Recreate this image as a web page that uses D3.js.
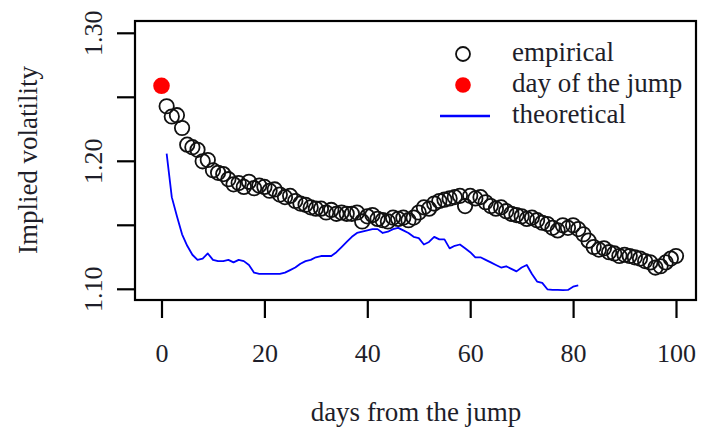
<!DOCTYPE html>
<html><head><meta charset="utf-8">
<script src="https://cdn.jsdelivr.net/npm/d3@7"></script>
<style>body{margin:0;background:#fff}svg{display:block}text{font-family:"Liberation Serif","DejaVu Serif",serif;fill:#1e1e2a}</style>
</head><body>
<script>
// Data
const jumpDay = [0];
const jumpValue = [1.259];
const empiricalValues = [1.243,1.235,1.236,1.226,1.213,1.211,1.209,1.200,1.201,1.193,
1.191,1.190,1.186,1.182,1.183,1.180,1.184,1.179,1.181,1.180,
1.177,1.178,1.174,1.172,1.173,1.169,1.167,1.166,1.164,1.163,
1.163,1.160,1.162,1.159,1.160,1.159,1.159,1.160,1.153,1.157,
1.158,1.155,1.154,1.153,1.156,1.155,1.156,1.154,1.156,1.160,
1.164,1.163,1.167,1.169,1.170,1.171,1.172,1.173,1.165,1.173,
1.171,1.172,1.168,1.165,1.163,1.164,1.161,1.159,1.158,1.157,
1.155,1.156,1.154,1.152,1.151,1.148,1.146,1.150,1.148,1.150,
1.147,1.143,1.138,1.133,1.131,1.132,1.129,1.128,1.126,1.127,
1.126,1.125,1.124,1.122,1.121,1.117,1.118,1.121,1.124,1.126];
const theoreticalValues = [1.206,1.172,1.157,1.143,1.134,1.127,1.123,1.124,1.128,1.123,
1.122,1.122,1.123,1.121,1.123,1.122,1.119,1.113,1.112,1.112,
1.112,1.112,1.112,1.113,1.115,1.117,1.120,1.122,1.123,1.125,
1.126,1.126,1.126,1.129,1.133,1.137,1.141,1.144,1.145,1.146,
1.147,1.147,1.144,1.145,1.147,1.148,1.146,1.144,1.141,1.140,
1.135,1.137,1.141,1.139,1.139,1.132,1.134,1.135,1.132,1.129,
1.125,1.125,1.123,1.121,1.119,1.117,1.118,1.116,1.114,1.117,
1.119,1.112,1.106,1.105,1.100,1.0995,1.0995,1.0993,1.0995,1.102,1.103];
const xTicks = [0,20,40,60,80,100];
const yTicks = [1.10,1.15,1.20,1.25,1.30];
const yLabels = [1.10,1.20,1.30];
const legendItems = ["empirical","day of the jump","theoretical"];

const W=701,H=431;
const svg=d3.select("body").append("svg").attr("width",W).attr("height",H);
const x=d3.scaleLinear().domain([0,100]).range([161.5,676]);
const y=d3.scaleLinear().domain([1.10,1.30]).range([289.3,33.3]);
const box={l:135,r:696,t:21,b:300};
const FS=26;

// box
svg.append("rect").attr("x",box.l).attr("y",box.t).attr("width",box.r-box.l).attr("height",box.b-box.t)
  .attr("fill","none").attr("stroke","#000").attr("stroke-width",2.2);

// x axis
const xa=svg.append("g").attr("transform",`translate(0,${box.b})`)
  .call(d3.axisBottom(x).tickValues(xTicks).tickSize(18).tickPadding(0).tickFormat(d3.format("d")));
xa.select(".domain").remove();
xa.selectAll("line").attr("stroke","#000").attr("stroke-width",2.2);
xa.selectAll("text").attr("y",62).attr("dy",0).style("font-size",FS+"px").attr("fill","#1e1e2a");

// y axis
const ya=svg.append("g").attr("transform",`translate(${box.l},0)`)
  .call(d3.axisLeft(y).tickValues(yTicks).tickSize(18).tickFormat(d=>yLabels.some(v=>Math.abs(v-d)<1e-9)?d3.format(".2f")(d):""));
ya.select(".domain").remove();
ya.selectAll("line").attr("stroke","#000").attr("stroke-width",2.2);
ya.selectAll("text").attr("x",0).attr("dy",0).attr("text-anchor","middle")
  .attr("transform",d=>`translate(-33,${y(d)}) rotate(-90)`).attr("y",0)
  .style("font-size",FS+"px").attr("fill","#1e1e2a");
ya.selectAll(".tick").attr("transform",null);
ya.selectAll(".tick line").attr("y1",d=>y(d)).attr("y2",d=>y(d));

// titles
svg.append("text").attr("x",416).attr("y",421).attr("text-anchor","middle").style("font-size","27px").text("days from the jump");
svg.append("text").attr("transform","translate(37,160) rotate(-90)").attr("text-anchor","middle").style("font-size","27px").text("Implied volatility");

// theoretical line
const line=d3.line().x((d,i)=>x(i+1)).y(d=>y(d));
svg.append("path").datum(theoreticalValues).attr("d",line).attr("fill","none").attr("stroke","#0000ff").attr("stroke-width",1.8).attr("stroke-linejoin","round");

// empirical circles
svg.append("g").selectAll("circle").data(empiricalValues).join("circle")
  .attr("cx",(d,i)=>x(i+1)).attr("cy",d=>y(d)).attr("r",7.2)
  .attr("fill","none").attr("stroke","#111").attr("stroke-width",1.8);

// jump point
svg.append("g").selectAll("circle").data(jumpValue).join("circle")
  .attr("cx",(d,i)=>x(jumpDay[i])).attr("cy",d=>y(d)).attr("r",8.3).attr("fill","#ff0000");

// legend
const lg=svg.append("g");
const rowsY=[54,85,116];
lg.append("circle").attr("cx",463).attr("cy",rowsY[0]).attr("r",7).attr("fill","none").attr("stroke","#111").attr("stroke-width",1.8);
lg.append("circle").attr("cx",463).attr("cy",rowsY[1]).attr("r",7.8).attr("fill","#ff0000");
lg.append("line").attr("x1",440).attr("x2",490).attr("y1",rowsY[2]).attr("y2",rowsY[2]).attr("stroke","#0000ff").attr("stroke-width",2.5);
lg.selectAll("text").data(legendItems).join("text").attr("x",512).attr("y",(d,i)=>rowsY[i]+7).style("font-size","27px").text(d=>d);
</script>
</body></html>
